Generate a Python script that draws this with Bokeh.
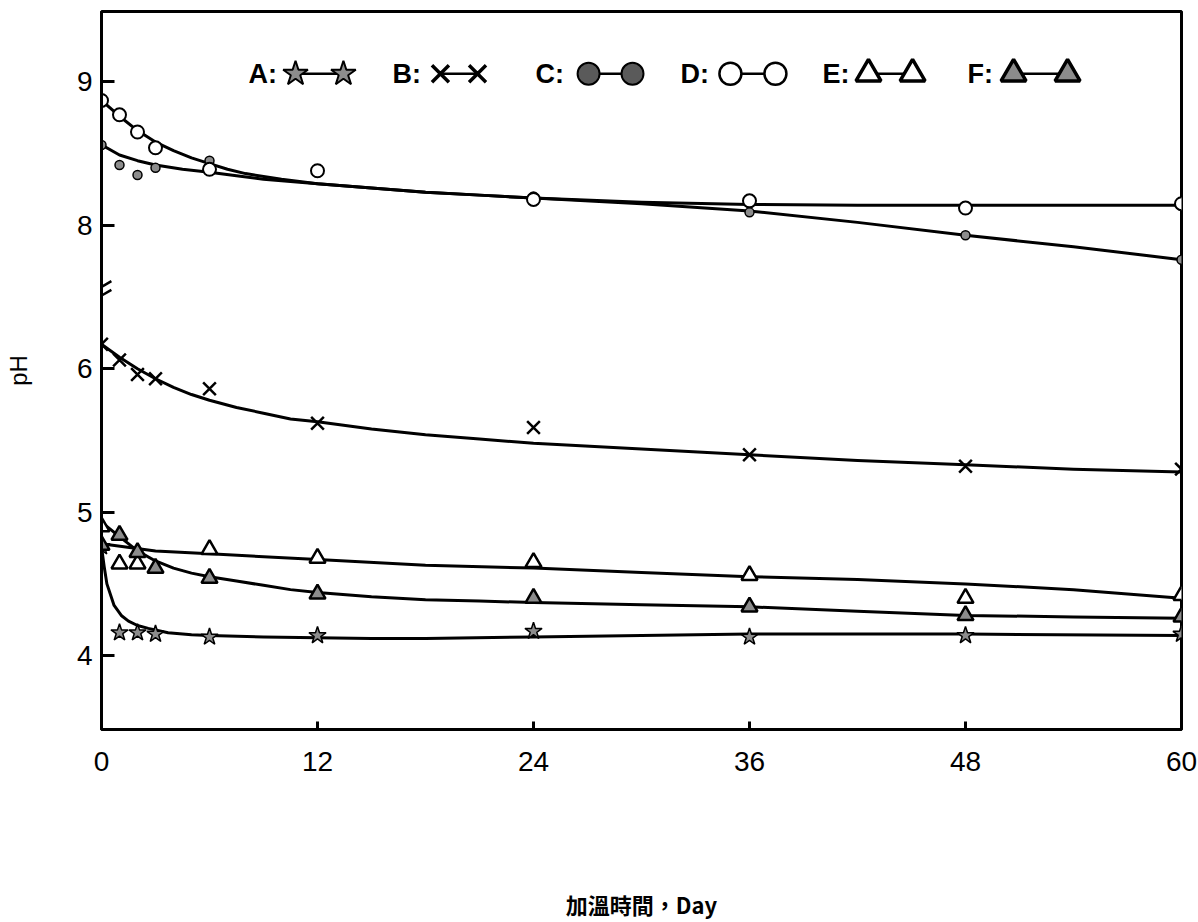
from bokeh.plotting import figure
from bokeh.models import Range1d, FixedTicker
from bokeh.core.properties import value
from bokeh.embed import file_html
from bokeh.resources import INLINE

# ---------------- data ----------------
days = [0, 1, 2, 3, 6, 12, 24, 36, 48, 60]
ph_A = [4.76, 4.16, 4.16, 4.15, 4.13, 4.14, 4.17, 4.13, 4.14, 4.15]
ph_B = [6.17, 6.06, 5.96, 5.93, 5.86, 5.62, 5.59, 5.40, 5.32, 5.30]
ph_C = [8.56, 8.42, 8.35, 8.40, 8.45, 8.37, 8.20, 8.09, 7.93, 7.76]
ph_D = [8.87, 8.77, 8.65, 8.54, 8.39, 8.38, 8.18, 8.17, 8.12, 8.15]
days_E = [0, 1, 2, 6, 12, 24, 36, 48, 60]
ph_E = [4.90, 4.64, 4.64, 4.74, 4.68, 4.65, 4.56, 4.40, 4.42]
ph_F = [4.77, 4.84, 4.72, 4.61, 4.54, 4.43, 4.40, 4.34, 4.28, 4.27]

# hand-drawn fitted curves (knots)
curve_A_day = [0, 0.15, 0.3, 0.7, 1.1, 1.5, 2.0, 2.6, 3.7, 5, 6, 9, 12, 15, 18, 24, 30, 36, 48, 60]
curve_A_ph = [4.76, 4.62, 4.50, 4.35, 4.28, 4.24, 4.21, 4.19, 4.16, 4.145, 4.14, 4.13, 4.125, 4.12,
              4.12, 4.13, 4.14, 4.15, 4.15, 4.14]
curve_B_day = [0, 1, 2, 3, 4, 5, 6, 7.5, 9, 10.5, 12, 15, 18, 21, 24, 30, 36, 42, 48, 54, 60]
curve_B_ph = [6.17, 6.08, 6.00, 5.93, 5.87, 5.82, 5.78, 5.73, 5.69, 5.65, 5.63, 5.58, 5.54,
              5.51, 5.48, 5.44, 5.40, 5.36, 5.33, 5.30, 5.28]
curve_C_day = [0, 1, 2, 3, 4.5, 6, 7.5, 9, 10.5, 12, 15, 18, 21, 24, 30, 36, 42, 48, 54, 60]
curve_C_ph = [8.56, 8.49, 8.45, 8.42, 8.39, 8.37, 8.345, 8.32, 8.305, 8.29, 8.26, 8.23, 8.21,
              8.19, 8.15, 8.10, 8.02, 7.93, 7.85, 7.76]
curve_D_day = [0, 1, 2, 3, 4, 5, 6, 7, 8, 10, 12, 15, 18, 21, 24, 30, 36, 42, 48, 54, 60]
curve_D_ph = [8.87, 8.76, 8.66, 8.58, 8.52, 8.47, 8.43, 8.39, 8.36, 8.32, 8.29, 8.26, 8.23,
              8.21, 8.19, 8.16, 8.145, 8.14, 8.14, 8.14, 8.14]
curve_E_day = [0, 3, 6, 12, 18, 24, 30, 36, 42, 48, 54, 60]
curve_E_ph = [4.78, 4.73, 4.71, 4.67, 4.63, 4.61, 4.58, 4.55, 4.53, 4.50, 4.46, 4.40]
curve_F_day = [0, 1, 2, 3, 4, 5, 6, 7.5, 9, 10.5, 12, 15, 18, 21, 24, 30, 36, 42, 48, 54, 60]
curve_F_ph = [4.93, 4.83, 4.73, 4.66, 4.61, 4.575, 4.55, 4.52, 4.49, 4.46, 4.44, 4.41, 4.39,
              4.38, 4.37, 4.355, 4.34, 4.31, 4.28, 4.27, 4.26]

y_ticks_ph = [4, 5, 6, 8, 9]
x_ticks = [0, 12, 24, 36, 48, 60]
legend_labels = ["A:", "B:", "C:", "D:", "E:", "F:"]

BREAK_GAP = 1.0  # pH 7..8 removed by the axis break


def disp(v):
    return [x - BREAK_GAP if x > 7 else x for x in v]


# ---------------- figure ----------------
p = figure(width=1198, height=922, output_backend="svg", toolbar_location=None,
           x_range=Range1d(0, 60), y_range=Range1d(3.485, 8.49),
           min_border_left=101, min_border_right=17, min_border_top=11,
           min_border_bottom=193)
p.background_fill_color = "white"
p.border_fill_color = "white"
p.grid.visible = False
p.outline_line_color = "black"
p.outline_line_width = 3

FONT = "Liberation Sans"

p.xaxis.ticker = FixedTicker(ticks=x_ticks)
p.yaxis.ticker = FixedTicker(ticks=disp(y_ticks_ph))
p.yaxis.major_label_overrides = {d: str(v) for d, v in zip(disp(y_ticks_ph), y_ticks_ph)}
for ax in (p.xaxis, p.yaxis):
    ax.axis_line_width = 3
    ax.axis_line_color = "black"
    ax.major_tick_out = 0
    ax.minor_tick_in = 0
    ax.minor_tick_out = 0
    ax.major_tick_line_width = 3
    ax.major_label_text_font = FONT
    ax.major_label_text_font_size = "28px"
    ax.major_label_text_color = "black"
    ax.axis_label_text_color = "black"
p.xaxis.major_tick_in = 8
p.yaxis.major_tick_in = 13
p.xaxis.major_label_standoff = 22
p.yaxis.major_label_standoff = 9

p.xaxis.axis_label = "加溫時間，Day"
p.xaxis.axis_label_text_font = "Noto Sans CJK TC"
p.xaxis.axis_label_text_font_style = "bold"
p.xaxis.axis_label_text_font_size = "22px"
p.xaxis.axis_label_standoff = 114

p.yaxis.axis_label = "pH"
p.yaxis.axis_label_text_font = FONT
p.yaxis.axis_label_text_font_style = "normal"
p.yaxis.axis_label_text_font_size = "24px"
p.yaxis.axis_label_standoff = 42

# axis break mark on the y axis
p.segment(x0=[-0.55, -0.55], y0=[6.47, 6.53], x1=[0.55, 0.55], y1=[6.55, 6.61],
          line_color="black", line_width=2.5)

# curves
LW = 3
for cx, cy in [(curve_A_day, curve_A_ph), (curve_B_day, curve_B_ph),
               (curve_C_day, curve_C_ph), (curve_D_day, curve_D_ph),
               (curve_E_day, curve_E_ph), (curve_F_day, curve_F_ph)]:
    p.line(cx, disp(cy), line_color="black", line_width=LW, line_join="round")

GRAY = "#8c8c8c"
# markers
p.scatter(days, disp(ph_A), marker="star", size=18, fill_color=GRAY,
          line_color="black", line_width=1.5)
p.scatter(days, disp(ph_B), marker="x", size=18, line_color="black", line_width=2.5)
p.scatter(days, disp(ph_C), marker="circle", size=9, fill_color=GRAY,
          line_color="black", line_width=1.5)
p.scatter(days, disp(ph_D), marker="circle", size=13, fill_color="white",
          line_color="black", line_width=2)
p.scatter(days_E, disp(ph_E), marker="triangle", size=16, fill_color="white",
          line_color="black", line_width=2.5)
p.scatter(days, disp(ph_F), marker="triangle", size=16, fill_color=GRAY,
          line_color="black", line_width=2.5)

# legend (drawn in the plot, pair of markers joined by a line)
ly = 8.056
label_x = [8.17, 16.17, 24.11, 32.17, 40.06, 48.11]
m1_x = [10.78, 18.83, 27.06, 34.94, 42.61, 50.67]
m2_x = [13.44, 20.89, 29.5, 37.44, 45.06, 53.67]
p.text(x=label_x, y=[ly] * 6, text=legend_labels, text_font=value(FONT),
       text_font_style="bold", text_font_size="27px", text_baseline="middle",
       text_color="black")
p.segment(x0=m1_x, y0=[ly] * 6, x1=m2_x, y1=[ly] * 6, line_color="black", line_width=2.5)
styles = [
    dict(marker="star", size=26, fill_color=GRAY, line_color="black", line_width=2),
    dict(marker="x", size=24, line_color="black", line_width=3.5),
    dict(marker="circle", size=22, fill_color="#5a5a5a", line_color="black", line_width=2),
    dict(marker="circle", size=22, fill_color="white", line_color="black", line_width=2.5),
    dict(marker="triangle", size=25, fill_color="white", line_color="black", line_width=3.5),
    dict(marker="triangle", size=25, fill_color=GRAY, line_color="black", line_width=3.5),
]
for i, st in enumerate(styles):
    p.scatter([m1_x[i], m2_x[i]], [ly, ly], **st)

open("out.html", "w").write(file_html(p, INLINE))
